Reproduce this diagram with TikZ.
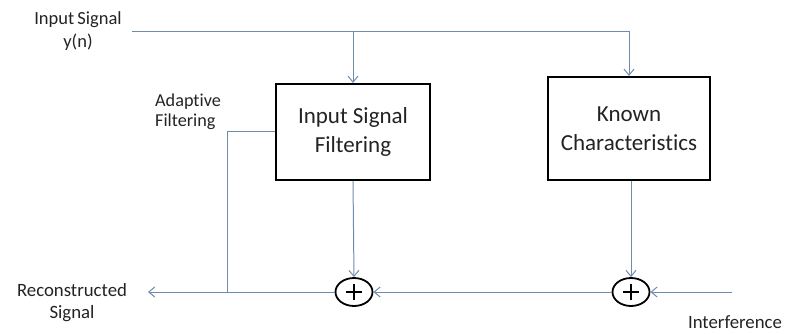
\documentclass[tikz,border=0pt]{standalone}
\usepackage{fontspec}
\setmainfont[Ligatures={NoCommon}]{Carlito}
\usetikzlibrary{arrows.meta,shapes.geometric}
\definecolor{wire}{RGB}{112,140,172}
\definecolor{txt}{RGB}{35,35,35}
\begin{document}
\begin{tikzpicture}[x=1pt,y=-1pt,
  wire/.style={draw=wire,line width=1pt},
  arr/.style={wire,-{Straight Barb[length=6pt,width=10pt]}},
  blk/.style={draw=black,line width=2.2pt,align=center,text=txt,font=\fontsize{23}{29}\selectfont},
  lbl/.style={text=txt,font=\fontsize{18.8}{22}\selectfont,inner sep=0pt},
  summer/.style={ellipse,draw=black,line width=1.8pt,minimum width=37pt,minimum height=28pt,inner sep=0pt,
    path picture={\draw[line width=2.4pt,black] ([xshift=-8pt]path picture bounding box.center) -- ([xshift=8pt]path picture bounding box.center);
                  \draw[line width=2.4pt,black] ([yshift=-8pt]path picture bounding box.center) -- ([yshift=8pt]path picture bounding box.center);}}
]
\useasboundingbox (0,0) rectangle (787,334);
% blocks
\node[blk,minimum width=154pt,minimum height=96pt] (box1) at (353,132) {Input Signal\\Filtering};
\node[blk,minimum width=162pt,minimum height=103pt] (box2) at (629,128.5) {Known\\Characteristics};
\node[summer] (sum1) at (354,292) {};
\node[summer] (sum2) at (631,292) {};
% labels
\node[lbl,align=center,font=\fontsize{18.5}{23}\selectfont] (lin) at (78,31) {Input\,Signal\\y(n)};
\node[lbl,align=left,font=\fontsize{18.2}{20}\selectfont,anchor=west] (lad) at (155,112) {Adaptive\\Filtering};
\node[lbl,align=center] (lrec) at (72,303) {Reconstructed\\Signal};
\node[lbl] (lint) at (735,322) {Interference};
% coordinates
\coordinate (inL) at (132,32);
\coordinate (j1) at (353,32);
\coordinate (fb) at (227,292);
\coordinate (outp) at (148,292);
\coordinate (intf) at (732,292);
% connectors
\draw[arr] (inL) -| (box2.north);
\draw[arr] (j1) -- (box1.north);
\draw[arr] (box1.south) -- (sum1.north);
\draw[arr] (box2.south -| sum2) -- (sum2.north);
\draw[arr] (sum2.west) -- (sum1.east);
\draw[arr] (intf) -- (sum2.east);
\draw[arr] (sum1.west) -- (outp);
\draw[wire] (box1.west) -| (fb);
\end{tikzpicture}
\end{document}
